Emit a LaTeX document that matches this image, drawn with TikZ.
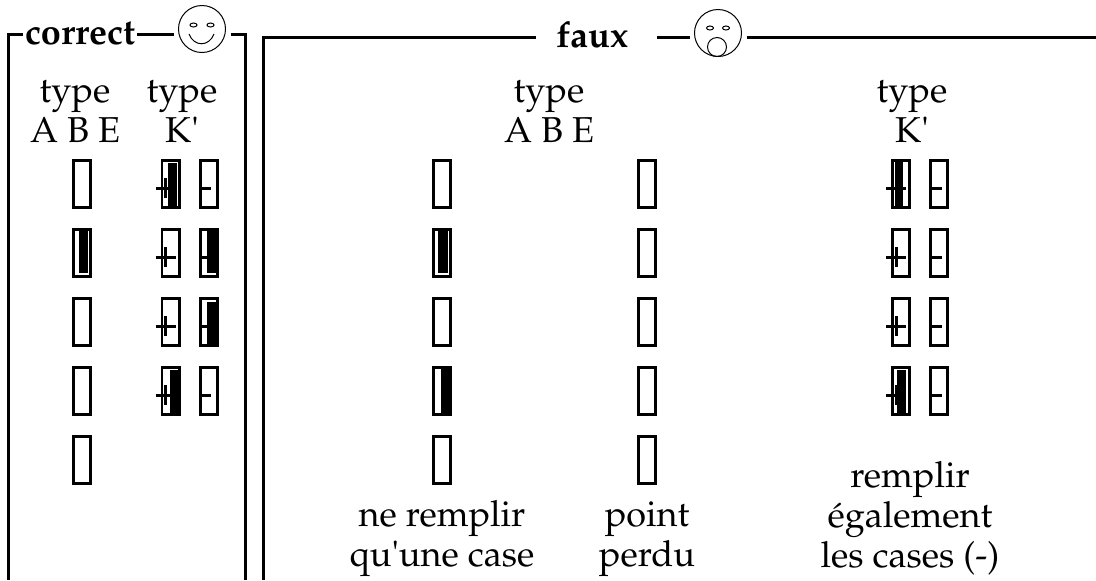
\documentclass[tikz,border=0pt]{standalone}
\usepackage[T1]{fontenc}
\usepackage{mathpazo}
\usetikzlibrary{positioning}

\begin{document}
\begin{tikzpicture}
                [
                    x=0.5pt,
                    y=-0.5pt,
                    font=\fontsize{18pt}{20pt}\selectfont,
                    node distance=34.5pt,
                    on grid,
                    frame/.style={line width=1.5pt},
                    title/.style={font=\fontsize{18pt}{20pt}\selectfont\bfseries, inner ysep=0pt, inner xsep=1pt, text height=10pt, text depth=0pt},
                    face/.style={shape=circle, draw, line width=0.5pt, minimum size=23.5pt, inner sep=0pt, outer sep=2.5pt},
                    feature/.style={line width=0.5pt},
                    heading/.style={align=center, inner sep=0pt, anchor=base},
                    cell/.style={draw, line width=1.4pt, minimum width=8.6pt, minimum height=23.6pt, inner sep=0pt},
                    sign/.style={line width=1.5pt},
                    pencil/.style={fill=black}
                ]
                \useasboundingbox (0,0) rectangle (1096,580);

                % frame "correct"
                \node (correct) [title] at (80,34) {correct};
                \node (smile)   [face]  at (202,29) {};
                \coordinate (correct bl) at (8,580);
                \coordinate (correct br) at (245,580);

                \draw[frame] (correct bl) |- (correct.west);
                \draw[frame] (correct.east) -- (correct.east -| smile.west);
                \draw[frame] (correct.east -| smile.east) -| (correct br);

                \draw[feature] ([shift={(-8.5,-4)}]smile.center) ellipse [x radius=3.5, y radius=2];
                \draw[feature] ([shift={(8.5,-4)}]smile.center) ellipse [x radius=3.5, y radius=2];
                \draw[feature] ([shift={(-13,5)}]smile.center)
                      .. controls ([shift={(-8,18)}]smile.center) and ([shift={(7,18)}]smile.center)
                      .. ([shift={(12,5)}]smile.center);

                % frame "faux"
                \node (faux) [title, inner xsep=10pt] at (592,37) {faux};
                \node (sad)  [face]                   at (718,33) {};
                \coordinate (faux bl)  at (263,580);
                \coordinate (faux end) at (1096,37);

                \draw[frame] (faux bl) |- (faux.west);
                \draw[frame, shorten <=4.5pt] (faux.east) -- (faux.east -| sad.west);
                \draw[frame] (faux.east -| sad.east) -- (faux end);

                \draw[feature] ([shift={(-8,-5)}]sad.center) ellipse [x radius=3.5, y radius=2];
                \draw[feature] ([shift={(8,-5)}]sad.center) ellipse [x radius=3.5, y radius=2];
                \draw[feature] ([shift={(-1,14)}]sad.center) circle [radius=9.5];

                % headings (base = last line)
                \node (correct abe head) [heading] at (75,142)  {type\\A B E};
                \node (correct k head)   [heading] at (182,142) {type\\K\textquotesingle};
                \node (faux abe head)    [heading] at (549,142) {type\\A B E};
                \node (faux k head)      [heading] at (912,142) {type\\K\textquotesingle};

                % cells, correct
                \node (correct abe 1) [cell] at (82,184) {};
                \node (correct abe 2) [cell, below=of correct abe 1] {};
                \node (correct abe 3) [cell, below=of correct abe 2] {};
                \node (correct abe 4) [cell, below=of correct abe 3] {};
                \node (correct abe 5) [cell, below=of correct abe 4] {};

                \node (correct ka 1) [cell] at (170.5,184) {};
                \node (correct ka 2) [cell, below=of correct ka 1] {};
                \node (correct ka 3) [cell, below=of correct ka 2] {};
                \node (correct ka 4) [cell, below=of correct ka 3] {};

                \node (correct kb 1) [cell, right=19.25pt of correct ka 1] {};
                \node (correct kb 2) [cell, below=of correct kb 1] {};
                \node (correct kb 3) [cell, below=of correct kb 2] {};
                \node (correct kb 4) [cell, below=of correct kb 3] {};

                % cells, faux
                \node (faux abe 1) [cell] at (442,184) {};
                \node (faux abe 2) [cell, below=of faux abe 1] {};
                \node (faux abe 3) [cell, below=of faux abe 2] {};
                \node (faux abe 4) [cell, below=of faux abe 3] {};
                \node (faux abe 5) [cell, below=of faux abe 4] {};

                \node (faux perdu 1) [cell] at (647,184) {};
                \node (faux perdu 2) [cell, below=of faux perdu 1] {};
                \node (faux perdu 3) [cell, below=of faux perdu 2] {};
                \node (faux perdu 4) [cell, below=of faux perdu 3] {};
                \node (faux perdu 5) [cell, below=of faux perdu 4] {};

                \node (faux ka 1) [cell] at (901,184) {};
                \node (faux ka 2) [cell, below=of faux ka 1] {};
                \node (faux ka 3) [cell, below=of faux ka 2] {};
                \node (faux ka 4) [cell, below=of faux ka 3] {};

                \node (faux kb 1) [cell, right=19pt of faux ka 1] {};
                \node (faux kb 2) [cell, below=of faux kb 1] {};
                \node (faux kb 3) [cell, below=of faux kb 2] {};
                \node (faux kb 4) [cell, below=of faux kb 3] {};

                % notes
                \node (faux abe note)   [heading] at (442,566) {ne remplir\\qu\textquotesingle une case};
                \node (faux perdu note) [heading] at (647,566) {point\\perdu};
                \node (faux k note)     [heading] at (910,567) {remplir\\également\\les cases (-)};

                % signs + and -
                \draw[sign] ([shift={(-5,4)}]correct ka 1.west) -- ++(20,0) ([shift={(5,-6)}]correct ka 1.west) -- ++(0,20);
                \draw[sign] ([shift={(-5,4)}]correct ka 2.west) -- ++(20,0) ([shift={(5,-6)}]correct ka 2.west) -- ++(0,20);
                \draw[sign] ([shift={(-5,4)}]correct ka 3.west) -- ++(20,0) ([shift={(5,-6)}]correct ka 3.west) -- ++(0,20);
                \draw[sign] ([shift={(-5,4)}]correct ka 4.west) -- ++(20,0) ([shift={(5,-6)}]correct ka 4.west) -- ++(0,20);
                \draw[sign] ([shift={(2,4)}]correct kb 1.west) -- ++(10,0);
                \draw[sign] ([shift={(2,4)}]correct kb 2.west) -- ++(10,0);
                \draw[sign] ([shift={(2,4)}]correct kb 3.west) -- ++(10,0);
                \draw[sign] ([shift={(2,4)}]correct kb 4.west) -- ++(10,0);

                \draw[sign] ([shift={(-5,4)}]faux ka 1.west) -- ++(20,0) ([shift={(5,-6)}]faux ka 1.west) -- ++(0,20);
                \draw[sign] ([shift={(-5,4)}]faux ka 2.west) -- ++(20,0) ([shift={(5,-6)}]faux ka 2.west) -- ++(0,20);
                \draw[sign] ([shift={(-5,4)}]faux ka 3.west) -- ++(20,0) ([shift={(5,-6)}]faux ka 3.west) -- ++(0,20);
                \draw[sign] ([shift={(-5,4)}]faux ka 4.west) -- ++(20,0) ([shift={(5,-6)}]faux ka 4.west) -- ++(0,20);
                \draw[sign] ([shift={(3,4)}]faux kb 1.west) -- ++(10,0);
                \draw[sign] ([shift={(3,4)}]faux kb 2.west) -- ++(10,0);
                \draw[sign] ([shift={(3,4)}]faux kb 3.west) -- ++(10,0);
                \draw[sign] ([shift={(3,4)}]faux kb 4.west) -- ++(10,0);

                % pencil marks
                \fill[pencil] ([shift={(7,1)}]correct abe 2.north west) rectangle ([shift={(-4,-5)}]correct abe 2.south east);
                \fill[pencil] ([shift={(7,4)}]correct ka 1.north west) rectangle ([shift={(-4,-2)}]correct ka 1.south east);
                \fill[pencil] ([shift={(8,3)}]correct kb 2.north west) rectangle ([shift={(-3,-5)}]correct kb 2.south east);
                \fill[pencil] ([shift={(8,5)}]correct kb 3.north west) rectangle ([shift={(-3,-1)}]correct kb 3.south east);
                \fill[pencil] ([shift={(9,4)}]correct ka 4.north west) rectangle ([shift={(-2,-1)}]correct ka 4.south east);

                \fill[pencil] ([shift={(6,1)}]faux abe 2.north west) rectangle ([shift={(-4,-5)}]faux abe 2.south east);
                \fill[pencil] ([shift={(9,3)}]faux abe 4.north west) rectangle ([shift={(-1.5,-1)}]faux abe 4.south east);
                \fill[pencil] ([shift={(4,3)}]faux ka 1.north west) rectangle ([shift={(-8,-2)}]faux ka 1.south east);
                \fill[pencil] ([shift={(6,4)}]faux ka 4.north west) rectangle ([shift={(-5,-2)}]faux ka 4.south east);

            \end{tikzpicture}
\end{document}
